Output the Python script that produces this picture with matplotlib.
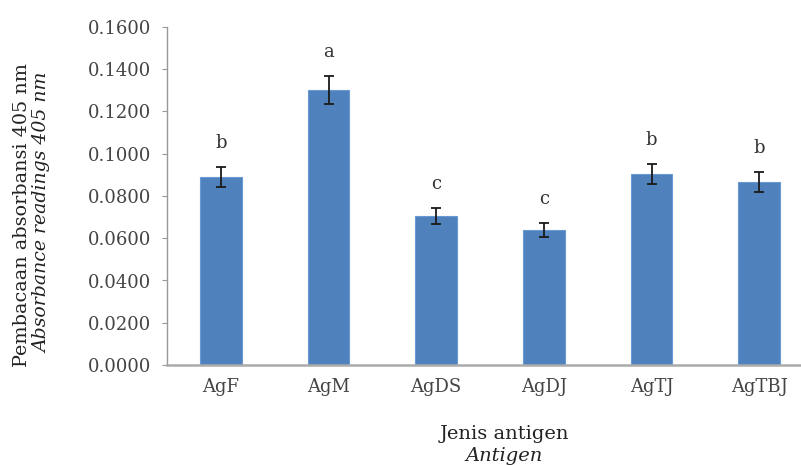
import matplotlib
matplotlib.use("Agg")
import matplotlib.pyplot as plt
import numpy as np

categories = ["AgF", "AgM", "AgDS", "AgDJ", "AgTJ", "AgTBJ"]
values = [0.0890, 0.1302, 0.0705, 0.0639, 0.0904, 0.0866]
errors = [0.0047, 0.0066, 0.0038, 0.0033, 0.0047, 0.0047]
letters = ["b", "a", "c", "c", "b", "b"]
yticks = [0.0, 0.02, 0.04, 0.06, 0.08, 0.10, 0.12, 0.14, 0.16]

plt.rcParams['font.family'] = ['DejaVu Serif']

fig = plt.figure(figsize=(8.01, 4.65), dpi=100)
ax = fig.add_axes([167/801, 100/465, 646/801, 338/465])

x = np.arange(len(categories))
ax.bar(x, values, width=0.39, color="#4F81BD", edgecolor="#6A9AD6", linewidth=0.8,
       yerr=errors, error_kw=dict(ecolor="#1a1a1a", elinewidth=1.3, capsize=3.5, capthick=1.3))

for xi, v, e, l in zip(x, values, errors, letters):
    ax.annotate(l, (xi, v + e), xytext=(0, 11), textcoords="offset points",
                ha="center", va="bottom", fontsize=13, color="#333333")

ax.set_xlim(-0.5, 5.5)
ax.set_ylim(0, 0.16)
ax.set_yticks(yticks)
ax.set_yticklabels([f"{t:.4f}" for t in yticks], fontsize=13, color="#444444")
ax.set_xticks(x)
ax.set_xticklabels(categories, fontsize=13, color="#444444")

for s in ["top", "right"]:
    ax.spines[s].set_visible(False)
ax.spines["left"].set_color("#999999")
ax.spines["left"].set_linewidth(1.0)
ax.spines["bottom"].set_color("#aaaaaa")
ax.spines["bottom"].set_linewidth(1.8)
ax.tick_params(axis="y", direction="out", length=3.5, color="#999999", pad=8)
ax.tick_params(axis="x", length=0, pad=9)

fig.text(22/801, 1 - 215/465, "Pembacaan absorbansi 405 nm", rotation=90,
         ha="center", va="center", fontsize=13.8, color="#222222")
fig.text(42/801, 1 - 213/465, "Absorbance readings 405 nm", rotation=90,
         ha="center", va="center", fontsize=13.6, style="italic", color="#222222")
fig.text(504/801, 1 - 434/465, "Jenis antigen", ha="center", va="center",
         fontsize=14, color="#222222")
fig.text(504/801, 1 - 456/465, "Antigen", ha="center", va="center",
         fontsize=14, style="italic", color="#222222")

fig.savefig("out.png", dpi=100)
